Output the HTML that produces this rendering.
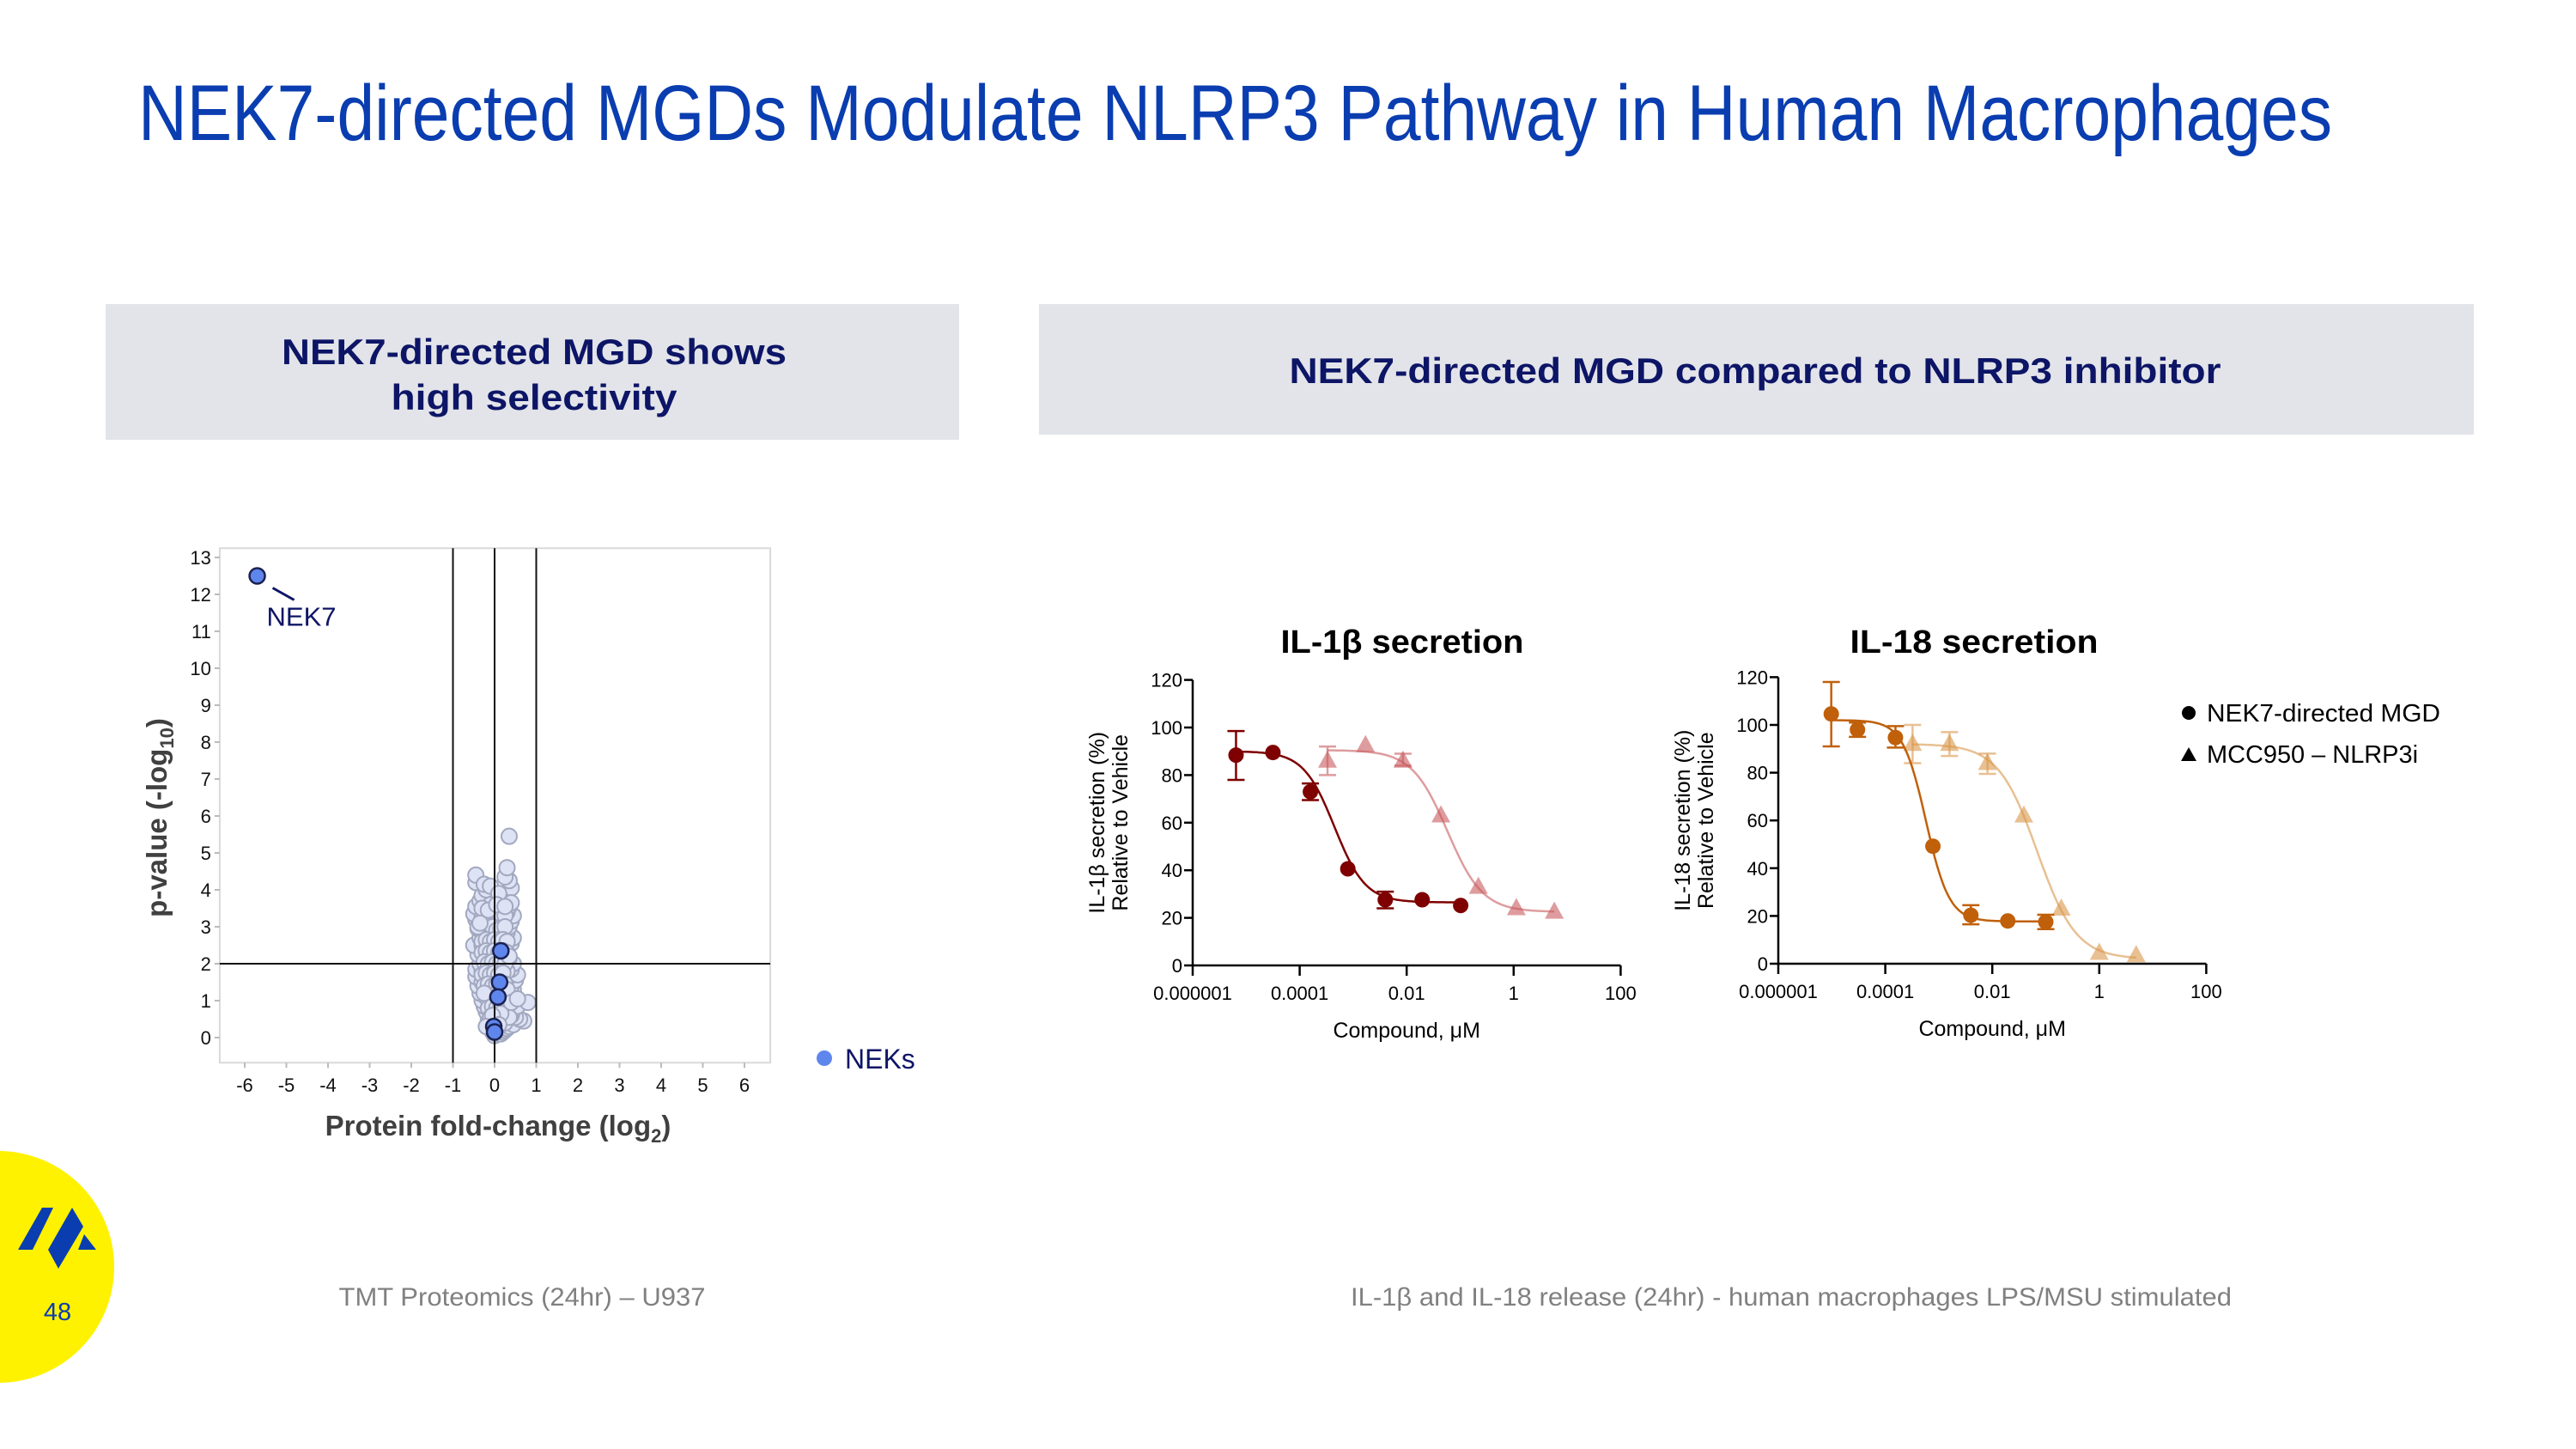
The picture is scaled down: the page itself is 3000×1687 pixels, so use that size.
<!DOCTYPE html>
<html><head><meta charset="utf-8"><style>
html,body{margin:0;padding:0;background:#fff;}
svg{display:block;font-family:"Liberation Sans",sans-serif;}
</style></head><body>
<svg id="root" width="3000" height="1687" viewBox="0 0 3000 1687" xmlns="http://www.w3.org/2000/svg">
<rect width="3000" height="1687" fill="#fff"/>
<text x="161" y="163" font-size="92" fill="#0a3db0" textLength="2555" lengthAdjust="spacingAndGlyphs">NEK7-directed MGDs Modulate NLRP3 Pathway in Human Macrophages</text>

<g>
<rect x="123" y="354" width="994" height="158" fill="#e3e4e9"/>
<text x="622" y="424" font-size="42" font-weight="bold" fill="#0d1566" text-anchor="middle" textLength="588" lengthAdjust="spacingAndGlyphs">NEK7-directed MGD shows</text>
<text x="622" y="477" font-size="42" font-weight="bold" fill="#0d1566" text-anchor="middle" textLength="333" lengthAdjust="spacingAndGlyphs">high selectivity</text>
</g>
<g>
<rect x="1210" y="354" width="1671" height="152" fill="#e3e4e9"/>
<text x="2044" y="446" font-size="42" font-weight="bold" fill="#0d1566" text-anchor="middle" textLength="1085" lengthAdjust="spacingAndGlyphs">NEK7-directed MGD compared to NLRP3 inhibitor</text>
</g>

<g id="volcano"></g>
<g id="il1b"></g>
<g id="il18"></g>

<g>
<circle cx="2549" cy="830" r="8" fill="#000"/>
<text x="2570" y="840" font-size="29" fill="#000" textLength="272" lengthAdjust="spacingAndGlyphs">NEK7-directed MGD</text>
<polygon points="2549,870 2558,886 2540,886" fill="#000"/>
<text x="2570" y="888" font-size="29" fill="#000" textLength="246" lengthAdjust="spacingAndGlyphs">MCC950 – NLRP3i</text>
</g>

<text x="608" y="1520" font-size="30" fill="#808080" text-anchor="middle" textLength="427" lengthAdjust="spacingAndGlyphs">TMT Proteomics (24hr) – U937</text>
<text x="2086" y="1520" font-size="30" fill="#808080" text-anchor="middle" textLength="1026" lengthAdjust="spacingAndGlyphs">IL-1β and IL-18 release (24hr) - human macrophages LPS/MSU stimulated</text>

<g>
<circle cx="-2" cy="1475" r="135" fill="#fff200"/>
<g fill="#0a3db0">
<polygon points="49,1406 62,1406 38,1455 21,1455"/>
<polygon points="84,1406 97,1428 68,1477 56,1455"/>
<polygon points="98,1437 112,1455 91,1455"/>
</g>
<text x="67" y="1537" font-size="29" fill="#0a3db0" text-anchor="middle">48</text>
</g>
</svg>
<script>
const NS="http://www.w3.org/2000/svg";
function mk(parent,tag,attrs,text){const e=document.createElementNS(NS,tag);for(const k in attrs)e.setAttribute(k,attrs[k]);if(text!==undefined)e.textContent=text;parent.appendChild(e);return e;}

/* ---------- Volcano data ---------- */
const cloudX=[0.00,0.05,-0.05,0.10,0.15,0.20,0.25,-0.10,0.30,0.35,0.45,0.70,0.60,0.50,-0.15,0.40,-0.20,0.30,0.45,-0.25,0.20,0.55,0.80,-0.30,0.35,0.50,-0.35,0.25,0.45,-0.40,0.40,-0.25,0.50,-0.45,0.30,0.55,-0.45,-0.30,0.40,0.45,-0.35,-0.20,0.35,-0.40,0.30,-0.50,-0.30,0.40,0.45,-0.35,-0.20,0.30,-0.40,0.35,-0.45,0.40,0.45,-0.50,-0.30,0.30,-0.45,0.35,-0.35,0.20,-0.30,0.25,-0.20,0.40,0.35,-0.45,-0.45,0.25,0.30,0.35,-0.25,-0.10,0.00,0.10,-0.10,0.05,-0.15,0.00,0.15,-0.05,0.10,-0.10,0.20,0.00,-0.15,0.10,0.05,-0.10,0.15,0.00,-0.20,0.20,-0.05,0.15,0.25,-0.20,0.20,-0.25,0.20,-0.10,0.10,0.30,-0.30,0.05,-0.05,
 -0.25,-0.15,-0.05,0.05,0.15,0.25,-0.25,-0.15,-0.05,0.05,0.15,0.25,-0.30,-0.20,-0.10,0.00,0.10,0.20,0.30,-0.30,-0.20,-0.10,0.00,0.10,0.20,0.30,-0.25,-0.15,-0.05,0.05,0.15,0.25,-0.30,-0.20,-0.10,0.00,0.10,0.20,-0.25,-0.15,-0.05,0.05,0.15,0.25,-0.20,-0.10,0.00,0.10,0.20,-0.15,-0.05,0.05,0.15,-0.10,0.00,0.10,0.20,-0.05,0.05,0.15,0.25,0.35,-0.30,-0.40,0.40,-0.15,0.05,0.25,-0.35,0.35,-0.25,0.15,-0.05,0.10,-0.20,0.30,0.40,0.55];
const cloudY=[0.05,0.10,0.15,0.20,0.10,0.15,0.20,0.30,0.25,0.30,0.35,0.45,0.50,0.55,0.50,0.60,0.70,0.70,0.75,0.85,0.80,0.85,0.95,1.00,1.00,1.10,1.20,1.20,1.30,1.40,1.40,1.45,1.55,1.65,1.60,1.70,1.85,1.80,1.85,2.00,2.00,2.10,2.15,2.25,2.30,2.50,2.50,2.55,2.70,2.70,2.80,2.85,2.95,3.00,3.20,3.15,3.30,3.35,3.30,3.40,3.55,3.55,3.70,3.70,3.85,3.90,4.00,4.05,4.25,4.20,4.40,4.35,4.60,5.45,4.15,0.90,1.00,0.60,1.30,1.50,1.70,1.90,1.80,2.30,2.50,2.60,2.70,2.90,3.10,3.20,3.50,3.60,3.30,2.10,1.10,1.00,0.50,0.40,0.50,2.30,2.00,3.00,3.00,4.10,3.90,1.80,1.50,1.20,0.75,
 3.20,3.25,3.30,3.20,3.25,3.30,2.90,2.95,3.00,2.90,2.95,3.00,2.60,2.65,2.60,2.65,2.60,2.65,2.60,2.30,2.35,2.30,2.35,2.30,2.35,2.30,2.05,2.00,2.05,2.00,2.05,2.00,1.70,1.75,1.70,1.75,1.70,1.75,1.40,1.45,1.40,1.45,1.40,1.45,1.10,1.15,1.10,1.15,1.10,0.80,0.85,0.80,0.85,0.55,0.50,0.55,0.60,0.25,0.30,0.35,0.40,0.55,3.50,3.00,3.65,3.45,3.60,3.55,3.10,2.20,1.20,0.65,0.60,0.35,0.30,1.30,0.95,1.05];
const nekX=[-5.70,0.15,0.12,0.08,-0.02,0.00];
const nekY=[12.50,2.35,1.50,1.10,0.30,0.15];
const volXTicks=[-6,-5,-4,-3,-2,-1,0,1,2,3,4,5,6];
const volYTicks=[0,1,2,3,4,5,6,7,8,9,10,11,12,13];

/* ---------- Dose-response data ---------- */
const il1bCircLogX=[-5.19,-4.50,-3.80,-3.10,-2.40,-1.71,-0.99];
const il1bCircY=[88.4,89.5,73.0,40.6,27.6,27.6,25.2];
const il1bCircLo=[78,null,69.5,null,24,null,null];
const il1bCircHi=[98.5,null,76.5,null,31,null,null];
const il1bTriLogX=[-3.48,-2.77,-2.07,-1.36,-0.66,0.05,0.76];
const il1bTriY=[86,92.5,86,63,33,24,22.5];
const il1bTriLo=[80,null,84,null,null,null,null];
const il1bTriHi=[92,null,89,null,null,null,null];
const il1bCircFit=[90,26.5,-3.35,1.5];   // top, bottom, logIC50, hill
const il1bTriFit=[90.5,22.5,-1.24,1.31];

const il18CircLogX=[-5.01,-4.52,-3.81,-3.11,-2.40,-1.71,-1.00];
const il18CircY=[104.6,98.0,94.7,49.2,20.3,17.9,17.5];
const il18CircLo=[91,95,90.5,null,16.5,null,14.5];
const il18CircHi=[118,101,99.5,null,24.5,null,20.5];
const il18TriLogX=[-3.49,-2.80,-2.09,-1.41,-0.71,0.00,0.69];
const il18TriY=[92,92,84,62,23,4.5,3.5];
const il18TriLo=[84,87,79.5,null,null,null,null];
const il18TriHi=[100,97,88,null,null,null,null];
const il18CircFit=[102,17.7,-3.24,2.0];
const il18TriFit=[92,2,-1.16,1.19];

const doseXTickLog=[-6,-4,-2,0,2];
const doseXTickLabels=["0.000001","0.0001","0.01","1","100"];
const doseYTicks=[0,20,40,60,80,100,120];

/* ---------- Volcano ---------- */
(function(){
  const g=document.getElementById('volcano');
  const x0=576,ux=48.5,y0=1208,uy=43;
  const X=v=>x0+v*ux, Y=v=>y0-v*uy;
  const L=X(-6.6),R=X(6.62),T=Y(13.25),B=Y(-0.68);
  const frame=mk(g,'rect',{x:L,y:T,width:R-L,height:B-T,fill:'#fff',stroke:'#d9d9d9','stroke-width':2});
  
  
  volYTicks.forEach(t=>{
    const tk=mk(g,'line',{x1:L-6,x2:L,y1:Y(t),y2:Y(t),stroke:'#bbb','stroke-width':2});
    
    
    const lb=mk(g,'text',{x:L-10,y:Y(t)+8,'font-size':22,'text-anchor':'end',fill:'#111'},String(t));
    
    
  });
  volXTicks.forEach(t=>{
    const tk=mk(g,'line',{x1:X(t),x2:X(t),y1:B,y2:B+6,stroke:'#bbb','stroke-width':2});
    
    
    const lb=mk(g,'text',{x:X(t),y:B+34,'font-size':22,'text-anchor':'middle',fill:'#111'},String(t));
    
    
  });
  const cg=mk(g,'g',{});
  
  
  cloudX.forEach((v,i)=>{
    const c=mk(cg,'circle',{cx:X(v),cy:Y(cloudY[i]),r:9,fill:'#dde3f4',stroke:'#a2a8bf','stroke-width':2});
    
    
  });
  [-1,0,1].forEach(a=>{
    const l=mk(g,'line',{x1:X(a),x2:X(a),y1:T,y2:B,stroke:'#111','stroke-width':2});
    
    
  });
  const hl=mk(g,'line',{x1:L,x2:R,y1:Y(2),y2:Y(2),stroke:'#111','stroke-width':2});
  
  
  nekX.forEach((v,i)=>{
    const c=mk(g,'circle',{cx:X(v),cy:Y(nekY[i]),r:9,fill:'#5f86ec',stroke:'#1a2150','stroke-width':2.5});
    
    
  });
  const cx=X(nekX[0]),cy=Y(nekY[0]);
  const ln=mk(g,'line',{x1:cx+18,y1:cy+14,x2:cx+43,y2:cy+28,stroke:'#0d1566','stroke-width':3});
  
  
  const nl=mk(g,'text',{x:cx+11,y:cy+58,'font-size':31,fill:'#0d1566'},'NEK7');
  
  
  const yt=mk(g,'text',{x:0,y:0,'font-size':33,'font-weight':'bold',fill:'#404040','text-anchor':'middle',transform:'translate(194,952) rotate(-90)'});
  
  
  yt.innerHTML='p-value (-log<tspan font-size="22" dy="8">10</tspan><tspan dy="-8">)</tspan>';
  const xt=mk(g,'text',{x:580,y:1322,'font-size':33,'font-weight':'bold',fill:'#404040','text-anchor':'middle'});
  
  
  xt.innerHTML='Protein fold-change (log<tspan font-size="22" dy="8">2</tspan><tspan dy="-8">)</tspan>';
  const lg=mk(g,'g',{});
  
  
  mk(lg,'circle',{cx:960,cy:1232,r:9,fill:'#5f86ec'});
  mk(lg,'text',{x:984,y:1244,'font-size':32,fill:'#0d1566'},'NEKs');
})();

/* ---------- Dose-response ---------- */
function drawDose(id,ax,title,titleW,ylab,circ,tri,colC,colT){
  const g=document.getElementById(id);
  const x0=ax.x0,dec=62.3,y0=ax.y0,u=ax.u;
  const X=l=>x0+(l+6)*dec, Y=v=>y0-v*u;
  const tt=mk(g,'text',{x:ax.tx,y:760,'font-size':38,'font-weight':'bold',fill:'#000','text-anchor':'middle',textLength:titleW,lengthAdjust:'spacingAndGlyphs'});
  
  
  tt.textContent=title;
  const yl=mk(g,'text',{x:0,y:0,'font-size':25,fill:'#000','text-anchor':'middle',transform:`translate(${x0-103},${Y(60)}) rotate(-90)`},ylab);
  
  
  const yl2=mk(g,'text',{x:0,y:0,'font-size':25,fill:'#000','text-anchor':'middle',transform:`translate(${x0-76},${Y(60)}) rotate(-90)`},'Relative to Vehicle');
  
  
  const axl=mk(g,'path',{d:`M${X(-6)} ${Y(120)} V${Y(0)} H${X(2)}`,fill:'none',stroke:'#000','stroke-width':2.5});
  
  
  doseYTicks.forEach(t=>{
    const tk=mk(g,'line',{x1:X(-6)-10,x2:X(-6),y1:Y(t),y2:Y(t),stroke:'#000','stroke-width':2.5});
    
    
    const lb=mk(g,'text',{x:X(-6)-12,y:Y(t)+8,'font-size':22,'text-anchor':'end',fill:'#000'},String(t));
    
    
  });
  doseXTickLog.forEach((t,i)=>{
    const tk=mk(g,'line',{x1:X(t),x2:X(t),y1:Y(0),y2:Y(0)+12,stroke:'#000','stroke-width':2.5});
    
    
    const lb=mk(g,'text',{x:X(t),y:Y(0)+40,'font-size':22,'text-anchor':'middle',fill:'#000'},doseXTickLabels[i]);
    
    
  });
  const xl=mk(g,'text',{x:X(-2),y:Y(0)+84,'font-size':25,'text-anchor':'middle',fill:'#000'},'Compound, μM');
  
  
  function series(s,col,shape,name){
    const sg=mk(g,'g',{});
    
    
    const f=s.fit, lx=s.x;
    let d='';
    const a=lx[0],b=lx[lx.length-1];
    for(let k=0;k<=120;k++){const l=a+(b-a)*k/120;const v=f[1]+(f[0]-f[1])/(1+Math.pow(10,(l-f[2])*f[3]));d+=(k?'L':'M')+X(l).toFixed(1)+' '+Y(v).toFixed(1);}
    const cv=mk(sg,'path',{d:d,fill:'none',stroke:col,'stroke-width':2.5,opacity:shape==='tri'?0.6:1});
    
    
    lx.forEach((l,i)=>{
      if(s.lo[i]!==null){
        const e=mk(sg,'path',{d:`M${X(l)-10} ${Y(s.hi[i])}H${X(l)+10}M${X(l)} ${Y(s.hi[i])}V${Y(s.lo[i])}M${X(l)-10} ${Y(s.lo[i])}H${X(l)+10}`,stroke:col,'stroke-width':2.5,fill:'none',opacity:shape==='tri'?0.6:1});
        
        
      }
      let m;
      if(shape==='circ'){m=mk(sg,'circle',{cx:X(l),cy:Y(s.y[i]),r:9,fill:col});}
      else{const px=X(l),py=Y(s.y[i]);m=mk(sg,'polygon',{points:`${px},${py-12} ${px+11},${py+8} ${px-11},${py+8}`,fill:col,opacity:0.6});}
      
      
    });
  }
  series(tri,colT,'tri','mcc950-series');
  series(circ,colC,'circ','nek7-mgd-series');
}
drawDose('il1b',{x0:1389,y0:1124,u:2.77,tx:1633},'IL-1β secretion',283,'IL-1β secretion (%)',
  {x:il1bCircLogX,y:il1bCircY,lo:il1bCircLo,hi:il1bCircHi,fit:il1bCircFit},
  {x:il1bTriLogX,y:il1bTriY,lo:il1bTriLo,hi:il1bTriHi,fit:il1bTriFit},'#7e0000','#c85a5e');
drawDose('il18',{x0:2071,y0:1122,u:2.78,tx:2299},'IL-18 secretion',289,'IL-18 secretion (%)',
  {x:il18CircLogX,y:il18CircY,lo:il18CircLo,hi:il18CircHi,fit:il18CircFit},
  {x:il18TriLogX,y:il18TriY,lo:il18TriLo,hi:il18TriHi,fit:il18TriFit},'#c0600a','#d9964a');
</script>
</body></html>
